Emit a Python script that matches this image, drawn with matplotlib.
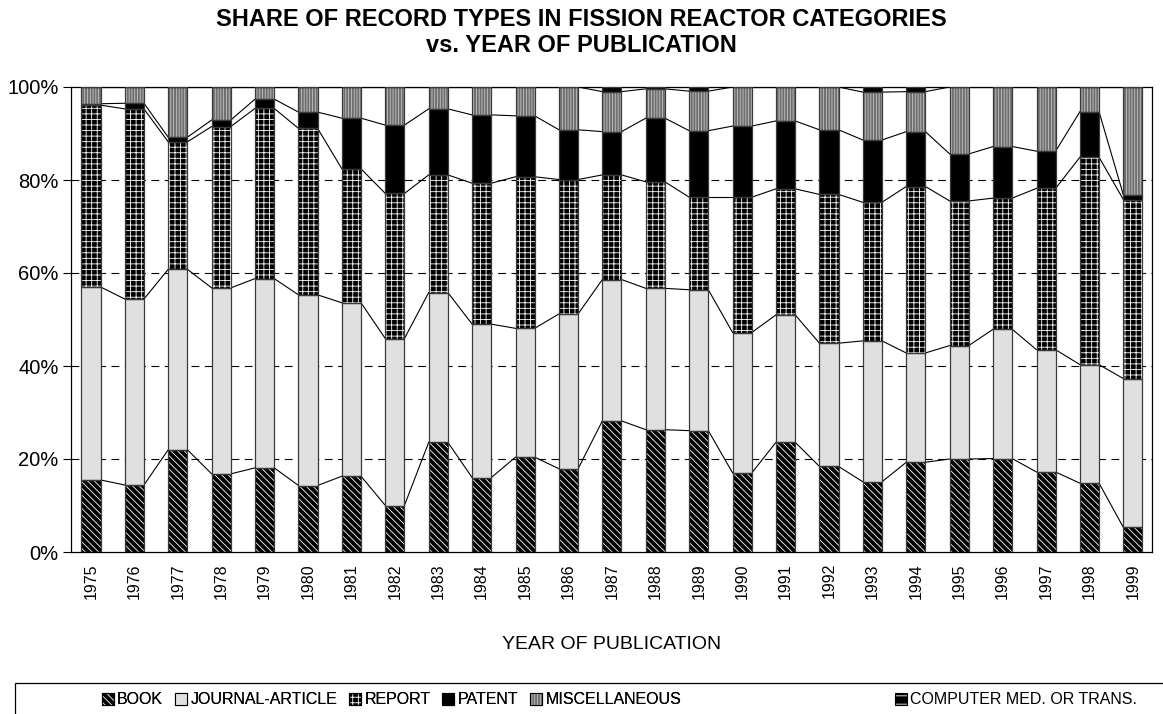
import numpy as np
import matplotlib.pyplot as plt
from matplotlib.patches import Patch, Rectangle

years = [str(y) for y in range(1975, 2000)]

# shares in percent
book = [15.5, 14.4, 22.0, 16.8, 18.1, 14.3, 16.3, 10.0, 23.6, 16.0, 20.4, 17.9, 28.2,
        26.3, 26.1, 17.0, 23.6, 18.4, 15.1, 19.3, 20.0, 20.1, 17.2, 14.8, 5.3]
journal = [41.5, 40.0, 38.8, 40.0, 40.7, 41.0, 37.3, 35.9, 32.2, 33.0, 27.7, 33.3, 30.4,
           30.4, 30.3, 30.2, 27.4, 26.5, 30.3, 23.5, 24.4, 27.8, 26.3, 25.5, 32.0]
report = [39.1, 40.9, 27.4, 34.7, 36.6, 35.8, 28.8, 31.2, 25.3, 30.3, 32.6, 28.9, 22.5,
          22.9, 19.9, 29.1, 27.1, 32.0, 29.8, 35.8, 31.1, 28.2, 34.7, 44.6, 38.5]
patent = [0.3, 1.2, 1.0, 1.4, 2.0, 3.5, 10.9, 14.7, 14.2, 14.7, 13.1, 10.7, 9.3,
          13.7, 14.3, 15.3, 14.6, 13.9, 13.4, 11.8, 10.1, 11.1, 8.0, 9.8, 1.0]
misc = [3.6, 3.5, 10.8, 7.1, 2.6, 5.4, 6.7, 8.2, 4.7, 6.0, 6.2, 9.2, 8.6,
        6.3, 8.5, 8.4, 7.3, 9.2, 10.3, 8.6, 14.4, 12.8, 13.8, 5.3, 23.2]
computer = [0, 0, 0, 0, 0, 0, 0, 0, 0, 0, 0, 0, 1.0,
            0.4, 0.9, 0, 0, 0, 1.1, 1.0, 0, 0, 0, 0, 0]

labels = ["BOOK", "JOURNAL-ARTICLE", "REPORT", "PATENT", "MISCELLANEOUS",
          "COMPUTER MED. OR TRANS."]
# (face, hatch, hatch colour)
styles = [("black", "\\\\\\\\\\", "white"),
          ("#e0e0e0", None, "#e0e0e0"),
          ("black", "+++", "white"),
          ("black", None, "black"),
          ("#6e6e6e", "||||||", "#c4c4c4"),
          ("black", "--", "white")]

plt.rcParams["font.family"] = ["Liberation Sans", "DejaVu Sans"]
plt.rcParams["hatch.linewidth"] = 0.6

fig = plt.figure(figsize=(11.63, 7.14), dpi=100)
ax = fig.add_axes([71 / 1163, 1 - 552 / 714, (1152 - 71) / 1163, (552 - 87) / 714])

x = np.arange(len(years))
w = 0.44
series = [book, journal, report, patent, misc, computer]
bottom = np.zeros(len(years))
tops = []
handles = []
for vals, (fc, hatch, hc) in zip(series, styles):
    vals = np.array(vals)
    ax.bar(x, vals, w, bottom=bottom, color=fc, hatch=hatch, edgecolor=hc,
           linewidth=0, zorder=2)
    ax.bar(x, vals, w, bottom=bottom, fill=False, edgecolor="#3a3a3a",
           linewidth=0.9, zorder=3)
    bottom = bottom + vals
    tops.append(bottom.copy())
    handles.append((Patch(facecolor=fc, hatch=hatch, edgecolor=hc, linewidth=0),
                    Patch(fill=False, edgecolor="black", linewidth=0.8)))

# series lines between neighbouring bars
for top in tops:
    for i in range(len(x) - 1):
        ax.plot([x[i] + w / 2, x[i + 1] - w / 2], [top[i], top[i + 1]],
                color="black", linewidth=0.8, zorder=1)

ax.set_xlim(-0.46, len(x) - 1 + 0.44)
ax.set_ylim(0, 100)
ax.set_yticks([0, 20, 40, 60, 80, 100])
ax.set_yticklabels([f"{v}%" for v in range(0, 101, 20)], fontsize=14.5)
ax.set_xticks(x)
ax.set_xticklabels(years, rotation=90, fontsize=11.5)
ax.tick_params(axis="x", length=0, pad=8)
ax.tick_params(axis="y", length=6, width=0.8, pad=3)
for y in [20, 40, 60, 80]:
    ax.axhline(y, color="black", linewidth=0.8, linestyle=(0, (7, 5)), zorder=0)
for s in ax.spines.values():
    s.set_linewidth(0.9)

ax.set_xlabel("YEAR OF PUBLICATION", fontsize=14, labelpad=27)

fig.text(0.5, 1 - 20 / 714, "SHARE OF RECORD TYPES IN FISSION REACTOR CATEGORIES",
         ha="center", va="center", fontsize=17, fontweight="bold")
fig.text(0.5, 1 - 45 / 714, "vs. YEAR OF PUBLICATION",
         ha="center", va="center", fontsize=17, fontweight="bold")

leg_kw = dict(frameon=False, fontsize=11.5, handlelength=0.75, handleheight=0.75,
              handletextpad=0.2, borderpad=0, borderaxespad=0, loc="center left")
leg1 = fig.legend(handles[:5], labels[:5], ncol=5, columnspacing=0.75,
                  bbox_to_anchor=(102 / 1163, 1 - 700 / 714), **leg_kw)
fig.legend(handles[5:], labels[5:], bbox_to_anchor=(895 / 1163, 1 - 700 / 714), **leg_kw)
fig.add_artist(leg1)
fig.add_artist(Rectangle((15 / 1163, -0.05), 1.1, 0.05 + (714 - 683) / 714,
                         transform=fig.transFigure, fill=False, edgecolor="black",
                         linewidth=0.9))

fig.savefig("out.png", dpi=100)
